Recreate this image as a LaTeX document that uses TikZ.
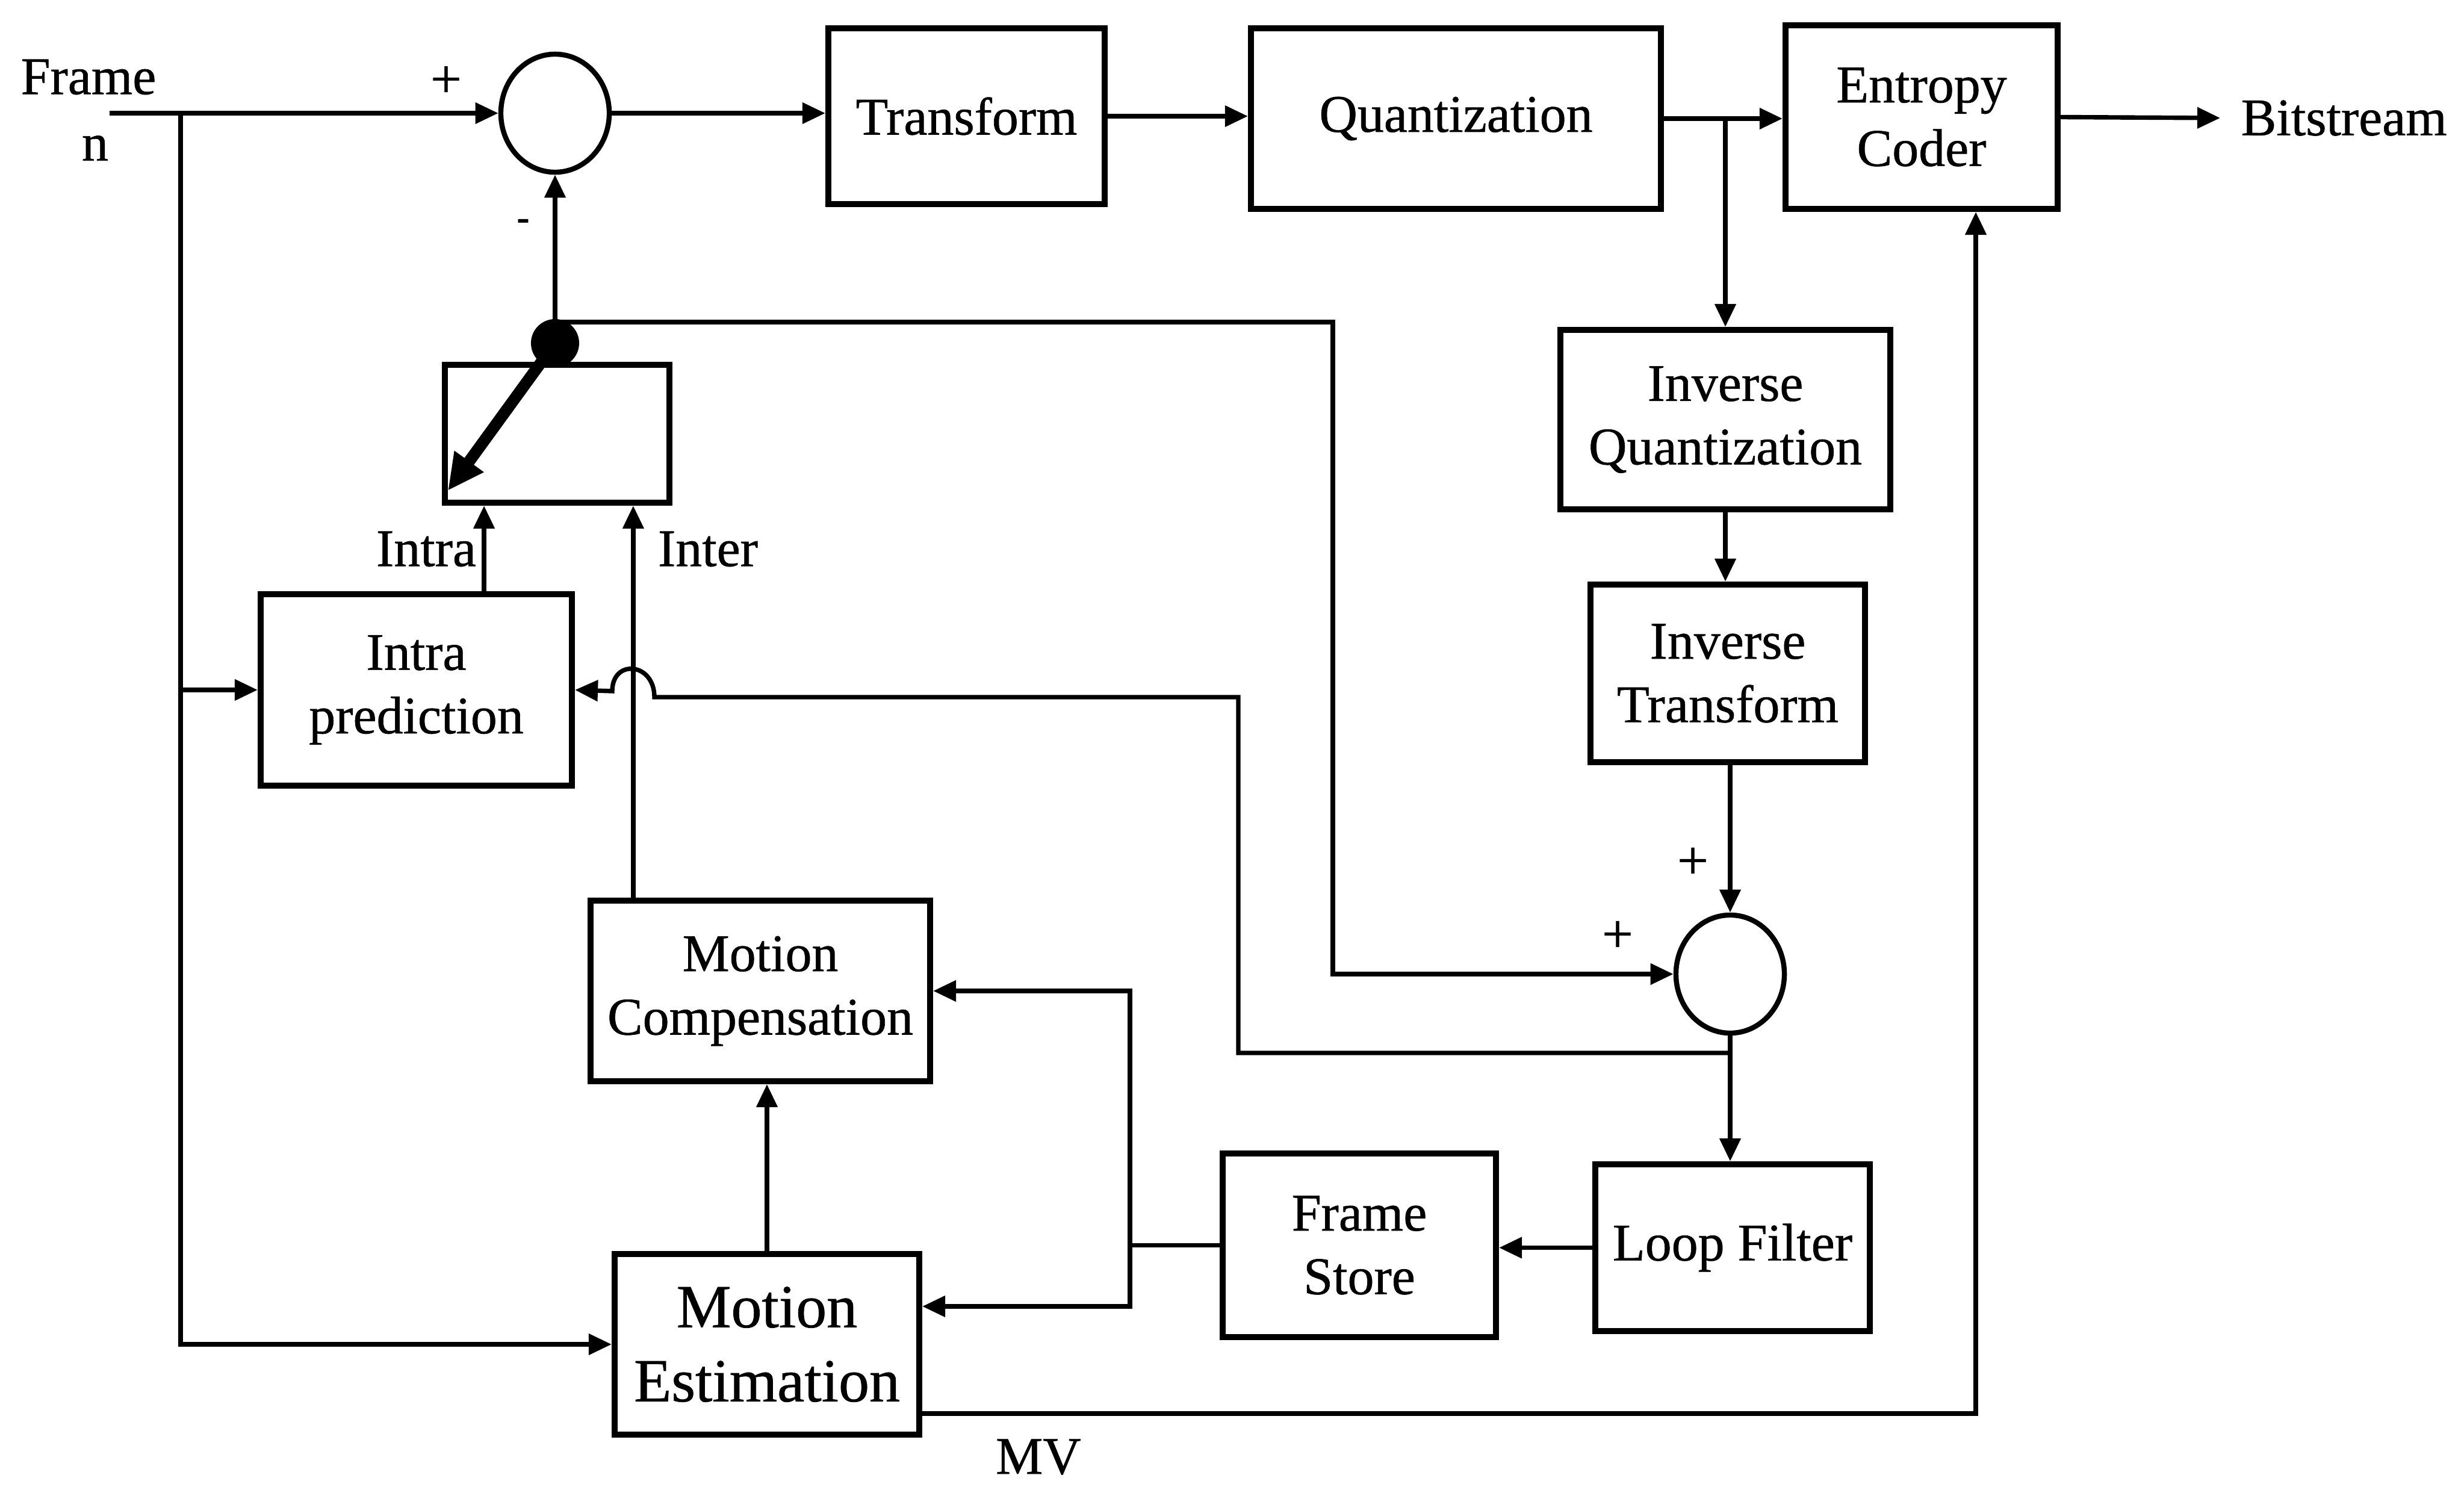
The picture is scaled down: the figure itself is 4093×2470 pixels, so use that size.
\documentclass[tikz,border=0pt]{standalone}
\usepackage{fontspec}
\setmainfont{Liberation Serif}[FakeBold=0.7]
\usetikzlibrary{arrows.meta,shapes.geometric,calc}
\begin{document}
\begin{tikzpicture}[x=0.01cm,y=-0.01cm,
  blk/.style={draw, line width=2.8pt, rectangle, align=center, inner sep=0pt,
    font=\fontsize{25}{30}\selectfont},
  sumnode/.style={draw, line width=2.4pt, ellipse, minimum width=1.8cm,
    minimum height=1.96cm, inner sep=0pt},
  wire/.style={line width=2.1pt},
  conn/.style={wire, -{Triangle[length=0.38cm,width=0.34cm]}},
  lbl/.style={inner sep=0pt, font=\fontsize{25}{30}\selectfont},
  sign/.style={inner sep=0pt, font=\fontsize{26}{30}\selectfont},
  minussign/.style={inner sep=0pt, font=\fontsize{18}{20}\selectfont\bfseries}
]
\useasboundingbox (0,0) rectangle (4093,2470);

% processing blocks
\node[blk, minimum width=4.59cm, minimum height=2.92cm] (tr) at (1605.5,193) {Transform};
\node[blk, minimum width=6.81cm, minimum height=3.00cm] (qz) at (2418.5,197) {Quantization};
\node[blk, minimum width=4.52cm, minimum height=3.05cm] (ec) at (3192,194.5) {Entropy\\Coder};
\node[blk, minimum width=5.48cm, minimum height=2.98cm] (iq) at (2866,697) {Inverse\\Quantization};
\node[blk, minimum width=4.56cm, minimum height=2.95cm] (it) at (2870,1118.5) {Inverse\\Transform};
\node[blk, minimum width=4.56cm, minimum height=2.77cm] (lf) at (2878,2072.5) {Loop Filter};
\node[blk, minimum width=4.54cm, minimum height=3.05cm] (fs) at (2258,2068.5) {Frame\\Store};
\node[blk, minimum width=5.64cm, minimum height=3.00cm] (mc) at (1263,1646) {Motion\\Compensation};
\node[blk, minimum width=5.06cm, minimum height=3.00cm,
  font=\fontsize{29}{35}\selectfont] (me) at (1274,2233) {Motion\\Estimation};
\node[blk, minimum width=5.17cm, minimum height=3.18cm] (ip) at (691.5,1146) {Intra\\prediction};
\node[blk, minimum width=3.73cm, minimum height=2.29cm] (sb) at (925.5,720.5) {};

% summing junctions
\node[sumnode] (s1) at (922,188) {};
\node[sumnode] (s2) at (2874,1618) {};

% text labels
\node[lbl] (frm) at (147,128) {Frame};
\node[lbl] (fn) at (158,246) {n};
\node[lbl, anchor=west] (bst) at (3722,196) {Bitstream};
\node[lbl] (mv) at (1725,2420) {MV};
\node[lbl] (lintra) at (708,912) {Intra};
\node[lbl] (linter) at (1176,912) {Inter};
\node[sign] (p1) at (741,136) {+};
\node[minussign] (m1) at (869,373) {-};
\node[sign] (p2) at (2812,1434) {+};
\node[sign] (p3) at (2687,1556) {+};

% free ends and bends
\coordinate (fin) at (182,188);
\coordinate (fbr) at (300,188);
\coordinate (vx) at (1877,2068.5);
\coordinate (j2) at (2874,1749);
\coordinate (ka) at (2057,1158);
\coordinate (hr) at (1087,1158);
\coordinate (hl) at (1017,1148);
\coordinate (kb) at (2214,535);
\coordinate (swtip) at (744,815);

% forward path
\draw[conn] (fin) -- (s1.west);
\draw[conn] (fbr) |- (ip.west);
\draw[conn] (fbr) |- (me.west);
\draw[conn] (s1.east) -- (s1.east -| tr.west);
\draw[conn] (tr.east) -- (tr.east -| qz.west);
\draw[conn] (qz.east) -- (qz.east -| ec.west);
\draw[conn] (ec.east) -- ([xshift=-0.34cm]bst.west);

% reconstruction loop
\draw[conn] (qz.east -| iq.north) -- (iq.north);
\draw[conn] (iq.south) -- (iq.south |- it.north);
\draw[conn] (s2.north |- it.south) -- (s2.north);
\draw[conn] (s2.south) -- (s2.south |- lf.north);
\draw[conn] (lf.west) -- (lf.west -| fs.east);
\draw[wire] (fs.west) -- (vx);
\draw[conn] (vx) |- (mc.east);
\draw[conn] (vx) |- ([yshift=0.63cm]me.east);
\draw[conn] (me.north) -- (me.north |- mc.south);
\draw[conn] ([yshift=-1.15cm]me.east) -| ([xshift=0.9cm]ec.south);

% prediction inputs to the mode switch
\draw[conn] ([xshift=1.125cm]ip.north) -- ([xshift=1.125cm]ip.north |- sb.south);
\draw[conn] ([xshift=-2.11cm]mc.north) -- ([xshift=-2.11cm]mc.north |- sb.south);

% reconstructed samples back to intra prediction, hopping over the inter line
\draw[conn] (j2) -| (ka) -- (hr) .. controls (1087,1100) and (1017,1094) .. (hl) -- (ip.east);

% prediction out of the switch
\draw[conn] (s1.south |- kb) -- (kb) |- (s2.west);
\draw[conn] (s1.south |- 0,560) -- (s1.south);
\node[circle, fill, minimum size=0.8cm, inner sep=0pt] (sw) at (922,570) {};
\draw[line width=5.5pt, -{Triangle[length=0.6cm,width=0.56cm]}] (sw.center) -- (swtip);
\end{tikzpicture}
\end{document}
